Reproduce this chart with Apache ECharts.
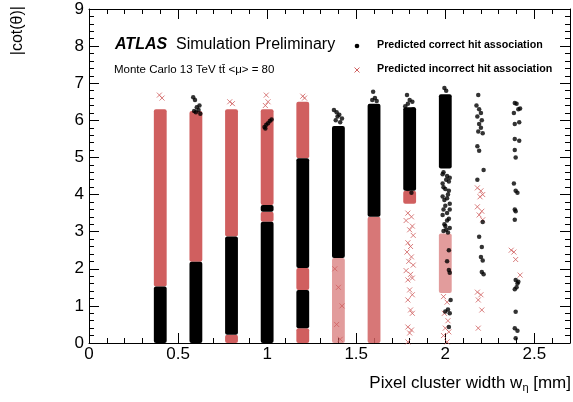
<!DOCTYPE html>
<html>
<head>
<meta charset="utf-8">
<script src="https://cdn.jsdelivr.net/npm/echarts@6/dist/echarts.min.js"></script>
<style>
  html, body { margin: 0; padding: 0; background: #fff; }
  #chart { width: 573px; height: 402px; }
</style>
</head>
<body>
<div id="chart"></div>
<script>
"use strict";

// dense strips: [x, yFrom, yTo]
const blackBands = [
  [0.4, 0, 1.52],
  [0.6, 0, 2.19],
  [0.8, 0.22, 2.87],
  [1.0, 0, 3.27],
  [1.0, 3.54, 3.72],
  [1.2, 0.4, 1.43],
  [1.2, 2.02, 4.98],
  [1.4, 2.29, 5.85],
  [1.6, 3.4, 6.45],
  [1.8, 4.1, 6.35],
  [2.0, 4.7, 6.7],
];
const redBands = [
  [0.4, 1.52, 6.3],
  [0.6, 2.19, 6.25],
  [0.8, 0, 0.22],
  [0.8, 2.87, 6.3],
  [1.0, 3.27, 3.54],
  [1.0, 3.72, 6.3],
  [1.2, 0, 0.4],
  [1.2, 1.43, 2.02],
  [1.2, 4.98, 6.5],
  [1.8, 3.75, 4.1],
];
// medium and low density strips
const redMediumBands = [
  [1.6, 0, 3.4],
];
const redLooseBands = [
  [1.4, 0, 2.29],
  [2.0, 1.35, 2.95],
];

// single points
const blackPoints = [
  [0.585, 6.62], [0.595, 6.55], [0.605, 6.35], [0.615, 6.28], [0.6, 6.22], [0.625, 6.18], [0.59, 6.25], [0.62, 6.4],
  [0.985, 5.82], [0.995, 5.88], [1.005, 5.92], [1.015, 5.98], [1.025, 6.02], [0.99, 5.78],
  [1.375, 6.28], [1.39, 6.22], [1.405, 6.15], [1.42, 6.05], [1.385, 6.0], [1.41, 5.95], [1.395, 6.1],
  [1.595, 6.77], [1.605, 6.6], [1.59, 6.55], [1.615, 6.52],
  [1.785, 6.68], [1.8, 6.55], [1.815, 6.5], [1.79, 6.45], [1.82, 6.3], [1.775, 6.38], [1.81, 4.05], [1.79, 4.15],
  [1.995, 6.87], [2.005, 6.8], [1.99, 4.6], [2.01, 4.5], [2.02, 4.35], [1.985, 4.3], [2.0, 4.15], [2.015, 4.0],
  [1.995, 3.85], [2.025, 3.75], [1.99, 3.6], [2.01, 3.5], [2.02, 3.35], [1.995, 3.2], [2.005, 3.05], [2.015, 2.98],
  [1.985, 4.55], [2.025, 4.45], [2.005, 4.4], [1.99, 4.2], [2.02, 4.1], [1.985, 3.95], [2.01, 3.9], [2.0, 3.7],
  [2.025, 3.6], [1.985, 3.45], [2.01, 3.3], [2.0, 3.15], [1.99, 3.02], [2.025, 3.1], [2.02, 2.5], [2.01, 2.2],
  [2.02, 1.97], [2.025, 1.89], [2.03, 1.16], [2.015, 0.9], [2.0, 0.85], [2.025, 0.8], [2.02, 0.43],
  [2.185, 6.68], [2.175, 6.4], [2.19, 6.3], [2.2, 6.2], [2.18, 6.1], [2.205, 6.0], [2.19, 5.9], [2.2, 5.8],
  [2.185, 5.7], [2.21, 5.65], [2.18, 5.3], [2.19, 5.18], [2.215, 4.66], [2.18, 4.4], [2.21, 3.26], [2.19, 2.86],
  [2.205, 2.59], [2.2, 2.32], [2.21, 2.22], [2.205, 1.91], [2.215, 1.85],
  [2.39, 6.47], [2.4, 6.45], [2.41, 6.3], [2.42, 6.32], [2.385, 6.2], [2.39, 5.9], [2.415, 5.95], [2.39, 5.5],
  [2.415, 5.45], [2.39, 5.2], [2.395, 5.0], [2.385, 4.3], [2.395, 4.1], [2.405, 4.05], [2.39, 3.6], [2.395, 3.55],
  [2.39, 3.32], [2.395, 1.7], [2.405, 1.6], [2.41, 1.65], [2.39, 1.45], [2.4, 1.5], [2.395, 0.84], [2.39, 0.4],
  [2.405, 0.33], [2.395, 0.13],
];
const redPoints = [
  [0.395, 6.68], [0.41, 6.6],
  [0.79, 6.5], [0.805, 6.45],
  [0.995, 6.68], [1.005, 6.5], [0.99, 6.4],
  [1.2, 6.65], [1.21, 6.6],
  [1.38, 2.0], [1.4, 1.5], [1.42, 1.0], [1.39, 0.5], [1.41, 0.1],
  [1.79, 3.5], [1.81, 3.4], [1.78, 3.3], [1.815, 3.15], [1.8, 3.05], [1.82, 2.9], [1.79, 2.7], [1.805, 2.6],
  [1.785, 2.45], [1.81, 2.32], [1.795, 2.2], [1.82, 2.1], [1.78, 1.95], [1.805, 1.85], [1.815, 1.75], [1.79, 1.7],
  [1.8, 1.43], [1.815, 1.3], [1.79, 1.16], [1.805, 0.89], [1.815, 0.8], [1.79, 0.43], [1.81, 0.35], [1.8, 0.27], [1.79, 0.03],
  [1.99, 1.25], [2.01, 1.1], [1.995, 0.8], [2.015, 0.6], [2.0, 0.4], [2.02, 0.3], [1.99, 0.2], [2.01, 0.03],
  [2.18, 4.18], [2.2, 4.1], [2.21, 4.0], [2.195, 3.94], [2.18, 3.67], [2.205, 3.55], [2.19, 3.45], [2.21, 3.32],
  [2.18, 1.37], [2.2, 1.3], [2.185, 1.16], [2.205, 0.89], [2.185, 0.4],
  [2.37, 2.5], [2.385, 2.45], [2.395, 2.25], [2.42, 1.83],
];

const RED = "#d05f5f";
const STRIP_W = 0.072;
const FONT = "Liberation Sans, Arial, Helvetica, sans-serif";
const X_CROSS = "path://M0,0L10,10M10,0L0,10";

function render_band(params, api) {
  const x = api.value(0);
  const p0 = api.coord([x - STRIP_W / 2, api.value(2)]);
  const p1 = api.coord([x + STRIP_W / 2, api.value(1)]);
  return {
    type: "rect",
    shape: { x: p0[0], y: p0[1], width: p1[0] - p0[0], height: p1[1] - p0[1], r: 2 },
    style: api.style(),
  };
}

function frame_axis(extra) {
  return Object.assign({
    type: "value",
    axisLine: { show: true, onZero: false, lineStyle: { color: "#000", width: 1 } },
    axisTick: { show: true, inside: true, length: 10, lineStyle: { color: "#000" } },
    minorTick: { show: true, splitNumber: 5, length: 5, lineStyle: { color: "#000" } },
    splitLine: { show: false },
    minorSplitLine: { show: false },
  }, extra);
}

const chart = echarts.init(document.getElementById("chart"));
chart.setOption({
  animation: false,
  grid: { left: 89, right: 3, top: 9, bottom: 59 },
  xAxis: [
    frame_axis({
      min: 0, max: 2.7, interval: 0.5, position: "bottom",
      axisLabel: {
        color: "#000", fontFamily: FONT, fontSize: 17, margin: 3,
        formatter: (v) => (v > 2.6 ? "" : String(v)),
      },
    }),
    frame_axis({ min: 0, max: 2.7, interval: 0.5, position: "top", axisLabel: { show: false } }),
  ],
  yAxis: [
    frame_axis({
      min: 0, max: 9, interval: 1, position: "left",
      axisLabel: { color: "#000", fontFamily: FONT, fontSize: 17, margin: 5 },
    }),
    frame_axis({ min: 0, max: 9, interval: 1, position: "right", axisLabel: { show: false } }),
  ],
  series: [
    {
      type: "custom", renderItem: render_band, data: redLooseBands,
      itemStyle: { color: RED, opacity: 0.62 }, z: 2,
    },
    {
      type: "custom", renderItem: render_band, data: redMediumBands,
      itemStyle: { color: RED, opacity: 0.85 }, z: 2,
    },
    {
      type: "custom", renderItem: render_band, data: redBands,
      itemStyle: { color: RED }, z: 3,
    },
    {
      type: "custom", renderItem: render_band, data: blackBands,
      itemStyle: { color: "#000" }, z: 4,
    },
    {
      name: "Predicted incorrect hit association",
      type: "scatter", data: redPoints, symbol: X_CROSS, symbolSize: 5,
      itemStyle: { color: "none", borderColor: RED, borderWidth: 1 }, z: 5,
    },
    {
      name: "Predicted correct hit association",
      type: "scatter", data: blackPoints, symbol: "circle", symbolSize: 4.5,
      itemStyle: { color: "#000" }, z: 6,
    },
  ],
  graphic: [
    { type: "text", left: 115, top: 37, style: { text: "ATLAS", fontFamily: FONT, fontSize: 16, fontWeight: "bold", fontStyle: "italic", fill: "#000" } },
    { type: "text", left: 176, top: 37, style: { text: "Simulation Preliminary", fontFamily: FONT, fontSize: 16, fill: "#000" } },
    { type: "text", left: 114, top: 64, style: { text: "Monte Carlo 13 TeV tt\u0304 <\u03bc> = 80", fontFamily: FONT, fontSize: 11.5, fill: "#000" } },
    { type: "circle", shape: { cx: 357, cy: 46, r: 2.3 }, style: { fill: "#000" } },
    { type: "text", left: 377, top: 40, style: { text: "Predicted correct hit association", fontFamily: FONT, fontSize: 10.7, fontWeight: "bold", fill: "#000" } },
    { type: "polyline", shape: { points: [[354.5, 67.5], [359.5, 72.5]] }, style: { stroke: RED, lineWidth: 1 } },
    { type: "polyline", shape: { points: [[359.5, 67.5], [354.5, 72.5]] }, style: { stroke: RED, lineWidth: 1 } },
    { type: "text", left: 377, top: 64, style: { text: "Predicted incorrect hit association", fontFamily: FONT, fontSize: 10.7, fontWeight: "bold", fill: "#000" } },
    {
      type: "text", x: 10, y: 6, rotation: Math.PI / 2,
      style: { text: "|cot(\u03b8)|", fontFamily: FONT, fontSize: 16, fill: "#000", align: "right", verticalAlign: "top" },
    },
    {
      type: "text", right: 2, top: 375,
      style: {
        text: "{a|Pixel cluster width w}{s|\u03b7}{a| [mm]}",
        rich: {
          a: { fontFamily: FONT, fontSize: 17, fill: "#000" },
          s: { fontFamily: FONT, fontSize: 11, fill: "#000", padding: [9, 0, 0, 0] },
        },
      },
    },
  ],
});
</script>
</body>
</html>
